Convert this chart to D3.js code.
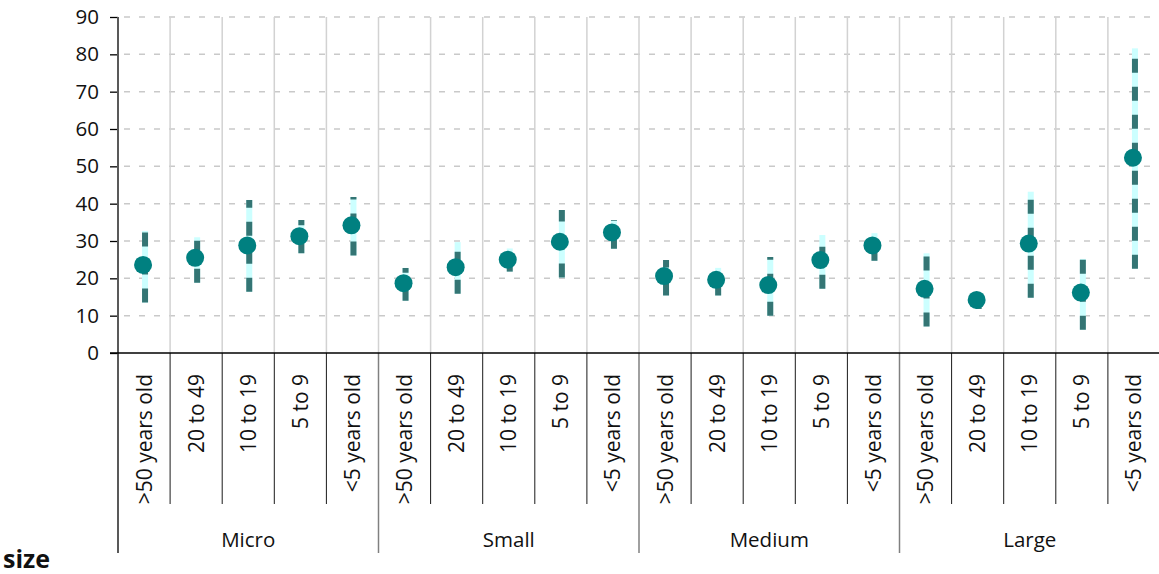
<!DOCTYPE html>
<html>
<head>
<meta charset="utf-8">
<script src="https://cdn.jsdelivr.net/npm/d3@7"></script>
<style>
  html, body { margin: 0; padding: 0; background: #fff; }
  svg { display: block; }
  text { font-family: "Open Sans", sans-serif; fill: #111; }
</style>
</head>
<body>
<svg id="chart" width="1159" height="574"></svg>
<script>
// ---- data ----
const groups = ["Micro", "Small", "Medium", "Large"];
const ages = [">50 years old", "20 to 49", "10 to 19", "5 to 9", "<5 years old"];
const pointValues = [23.6, 25.5, 28.8, 31.3, 34.2,
                     18.7, 23.0, 25.0, 29.8, 32.3,
                     20.6, 19.6, 18.2, 24.9, 28.8,
                     17.2, 14.2, 29.3, 16.2, 52.3];
const lowValues   = [13.5, 18.8, 16.4, 26.7, 26.1,
                     14.0, 15.9, 21.8, 20.2, 27.9,
                     15.4, 15.4, 10.0, 17.2, 24.7,
                     7.1, 11.8, 14.8, 6.2, 22.6];
const highValues  = [32.7, 31.0, 41.0, 35.6, 41.8,
                     22.8, 29.7, 28.0, 38.3, 35.6,
                     24.9, 22.8, 25.7, 31.6, 32.1,
                     26.7, 14.8, 43.2, 25.2, 81.6];
const yTicks = [0, 10, 20, 30, 40, 50, 60, 70, 80, 90];
const axisTitle = "size";

(function () {
// ---- build rows ----
const rows = [];
groups.forEach((g, gi) => ages.forEach((a, ai) => {
  const i = gi * ages.length + ai;
  rows.push({ key: i, group: g, age: a, v: pointValues[i], lo: lowValues[i], hi: highValues[i] });
}));

const svg = d3.select("#chart");
const pLeft = 118, pRight = 1160, pTop = 17, pBottom = 353;

const x = d3.scaleBand().domain(rows.map(d => d.key)).range([pLeft, pRight]).padding(0);
const y = d3.scaleLinear().domain([0, 90]).range([pBottom, pTop]);
const bw = x.bandwidth();

// horizontal dashed gridlines
svg.append("g").selectAll("line").data(yTicks.filter(t => t > 0)).join("line")
  .attr("x1", pLeft + 6).attr("x2", pRight)
  .attr("y1", d => y(d)).attr("y2", d => y(d))
  .attr("stroke", "#c9c9c9").attr("stroke-width", 1.5)
  .attr("stroke-dasharray", "6,9");

// vertical category gridlines
svg.append("g").selectAll("line").data(rows.slice(1)).join("line")
  .attr("x1", d => x(d.key)).attr("x2", d => x(d.key))
  .attr("y1", pTop).attr("y2", pBottom)
  .attr("stroke", "#d2d2d2").attr("stroke-width", 1.5);

// y axis
const yAxis = d3.axisLeft(y).tickValues(yTicks).tickSize(8).tickPadding(11);
const gy = svg.append("g").attr("transform", `translate(${pLeft},0)`).call(yAxis);
gy.select(".domain").remove();
gy.selectAll(".tick line").attr("stroke", "#000").attr("stroke-width", 1.3);
gy.selectAll(".tick text").attr("font-size", 20.5).attr("font-family", "Open Sans").attr("fill", "#111");

// y axis line
svg.append("line").attr("x1", pLeft).attr("x2", pLeft).attr("y1", pTop).attr("y2", 553)
  .attr("stroke", "#595959").attr("stroke-width", 2);

// inner category separators below axis
const groupStarts = rows.filter(d => ages.indexOf(d.age) === 0);
svg.append("g").selectAll("line").data(rows.filter(d => ages.indexOf(d.age) !== 0)).join("line")
  .attr("x1", d => x(d.key)).attr("x2", d => x(d.key))
  .attr("y1", pBottom).attr("y2", 504)
  .attr("stroke", "#1a1a1a").attr("stroke-width", 1);

// group separators
svg.append("g").selectAll("line").data(groupStarts.slice(1)).join("line")
  .attr("x1", d => x(d.key)).attr("x2", d => x(d.key))
  .attr("y1", pBottom).attr("y2", 553)
  .attr("stroke", "#808080").attr("stroke-width", 1.5);

// x axis line
svg.append("line").attr("x1", 110).attr("x2", pRight).attr("y1", y(0)).attr("y2", y(0))
  .attr("stroke", "#000").attr("stroke-width", 1.5);

// category labels
svg.append("g").selectAll("text").data(rows).join("text")
  .attr("transform", d => `translate(${x(d.key) + bw / 2 + 7.5},374) rotate(-90)`)
  .attr("text-anchor", "end")
  .attr("font-size", 21)
  .text(d => d.age);

// group labels
svg.append("g").selectAll("text").data(groupStarts).join("text")
  .attr("x", d => x(d.key) + bw * ages.length / 2)
  .attr("y", 547)
  .attr("text-anchor", "middle")
  .attr("font-size", 20.5)
  .text(d => d.group);

// axis title
svg.append("text").attr("x", 3).attr("y", 568)
  .attr("font-size", 25).attr("font-weight", "bold").attr("fill", "#000")
  .text(axisTitle);

// range bars: light base
svg.append("g").selectAll("rect").data(rows).join("rect")
  .attr("x", d => x(d.key) + bw / 2 - 2)
  .attr("width", 6)
  .attr("y", d => y(d.hi))
  .attr("height", d => y(d.lo) - y(d.hi))
  .attr("fill", "#ccffff");

// range bars: dark dashes (drawn bottom to top)
svg.append("g").selectAll("line").data(rows).join("line")
  .attr("x1", d => x(d.key) + bw / 2 + 1).attr("x2", d => x(d.key) + bw / 2 + 1)
  .attr("y1", d => y(d.lo)).attr("y2", d => y(d.hi))
  .attr("stroke", "#347574").attr("stroke-width", 6)
  .attr("stroke-dasharray", "14,14");

// points
svg.append("g").selectAll("circle").data(rows).join("circle")
  .attr("cx", d => x(d.key) + bw / 2 - 1)
  .attr("cy", d => y(d.v))
  .attr("r", 9)
  .attr("fill", "#008080");
})();
</script>
</body>
</html>
